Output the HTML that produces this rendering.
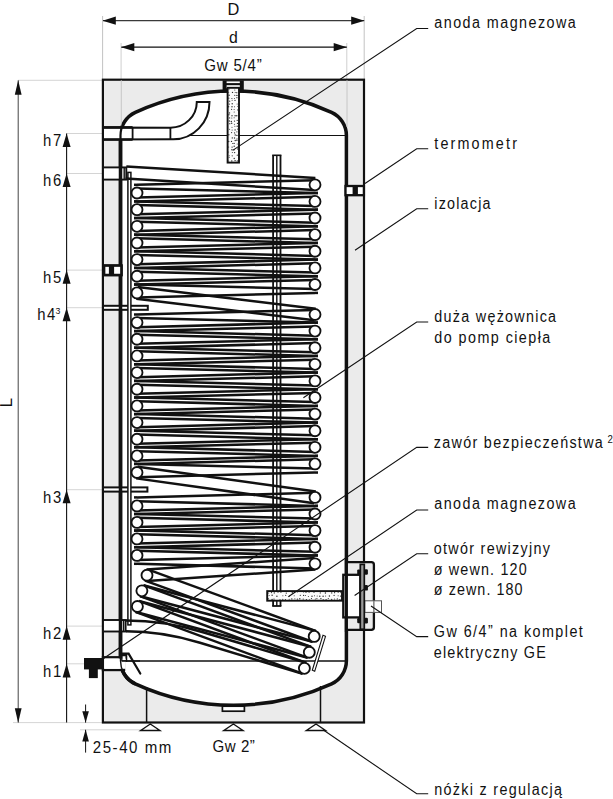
<!DOCTYPE html>
<html><head><meta charset="utf-8"><title>Zbiornik</title>
<style>
html,body{margin:0;padding:0;background:#fff;}
body{width:613px;height:799px;overflow:hidden;}
svg{display:block;}
text{font-family:"Liberation Sans",sans-serif;fill:#111;}
</style></head><body>
<svg width="613" height="799" viewBox="0 0 613 799">
<rect x="0" y="0" width="613" height="799" fill="#fff"/>
<line x1="102.60" y1="16.00" x2="102.60" y2="80.00" stroke="#bbbbbb" stroke-width="0.9" />
<line x1="364.20" y1="16.00" x2="364.20" y2="80.00" stroke="#bbbbbb" stroke-width="0.9" />
<line x1="121.10" y1="43.00" x2="121.10" y2="128.00" stroke="#c9c9c9" stroke-width="0.9" />
<line x1="346.80" y1="43.00" x2="346.80" y2="128.00" stroke="#c9c9c9" stroke-width="0.9" />
<line x1="18.00" y1="80.30" x2="103.00" y2="80.30" stroke="#c9c9c9" stroke-width="0.8" />
<line x1="66.60" y1="133.50" x2="103.00" y2="133.50" stroke="#c9c9c9" stroke-width="0.8" />
<line x1="66.60" y1="173.50" x2="103.00" y2="173.50" stroke="#c9c9c9" stroke-width="0.8" />
<line x1="66.60" y1="270.10" x2="103.00" y2="270.10" stroke="#c9c9c9" stroke-width="0.8" />
<line x1="66.60" y1="307.70" x2="103.00" y2="307.70" stroke="#c9c9c9" stroke-width="0.8" />
<line x1="66.60" y1="489.70" x2="103.00" y2="489.70" stroke="#c9c9c9" stroke-width="0.8" />
<line x1="66.60" y1="626.10" x2="103.00" y2="626.10" stroke="#c9c9c9" stroke-width="0.8" />
<line x1="66.60" y1="663.80" x2="103.00" y2="663.80" stroke="#c9c9c9" stroke-width="0.8" />
<line x1="13.00" y1="722.60" x2="103.00" y2="722.60" stroke="#c9c9c9" stroke-width="0.8" />
<line x1="80.00" y1="729.80" x2="141.00" y2="729.80" stroke="#c9c9c9" stroke-width="0.8" />
<rect x="102.90" y="79.70" width="261.10" height="642.80" fill="#ebebeb" stroke="#111111" stroke-width="2.2" />
<path d="M 120.5 660.8 L 120.5 135.5 A 25.46 25.46 0 0 1 135.38 112.34 A 236 236 0 0 1 331.52 112.34 A 25.46 25.46 0 0 1 346.4 135.5 L 346.4 660.8 A 25.31 25.31 0 0 1 331.62 683.81 A 236 236 0 0 1 135.28 683.81 A 25.31 25.31 0 0 1 120.5 660.8 Z" fill="#fff" stroke="#111111" stroke-width="3.5" />
<line x1="120.50" y1="135.50" x2="346.40" y2="135.50" stroke="#111111" stroke-width="1.2" />
<line x1="120.50" y1="661.00" x2="346.40" y2="661.00" stroke="#111111" stroke-width="1.3" />
<line x1="121.30" y1="80.00" x2="121.30" y2="127.00" stroke="#bdbdbd" stroke-width="0.8" />
<line x1="347.00" y1="80.00" x2="347.00" y2="127.00" stroke="#bdbdbd" stroke-width="0.8" />
<line x1="146.60" y1="687.00" x2="146.60" y2="722.50" stroke="#111111" stroke-width="1.5" />
<line x1="320.50" y1="686.00" x2="320.50" y2="722.50" stroke="#111111" stroke-width="1.5" />
<path d="M 150.3 724.0 L 140.70000000000002 730.5 L 159.9 730.5 Z" fill="#fff" stroke="#111111" stroke-width="1.4" stroke-linejoin="miter"/>
<path d="M 233.4 724.0 L 223.8 730.5 L 243.0 730.5 Z" fill="#fff" stroke="#111111" stroke-width="1.4" stroke-linejoin="miter"/>
<path d="M 316.0 724.0 L 306.4 730.5 L 325.6 730.5 Z" fill="#fff" stroke="#111111" stroke-width="1.4" stroke-linejoin="miter"/>
<rect x="222.40" y="706.20" width="22.00" height="5.00" fill="#fff" stroke="#111111" stroke-width="1.7" />
<path d="M 103 127.4 L 170.4 127.7 A 26.4 25.8 0 0 0 196.8 101.9 L 209.5 101.9 A 36.2 37.4 0 0 1 173.3 139.3 L 103 139.5 Z" fill="#fff" stroke="#111111" stroke-width="2.0" />
<line x1="170.40" y1="127.60" x2="170.40" y2="139.40" stroke="#111111" stroke-width="1.8" />
<line x1="132.60" y1="127.40" x2="132.60" y2="139.50" stroke="#111111" stroke-width="1.8" />
<line x1="103.00" y1="127.30" x2="132.60" y2="127.30" stroke="#111111" stroke-width="2.4" />
<line x1="103.00" y1="139.60" x2="132.60" y2="139.60" stroke="#111111" stroke-width="2.4" />
<path d="M 120.5 142 L 120.5 135.5 A 25.46 25.46 0 0 1 124.10 122.50" fill="none" stroke="#111111" stroke-width="2.2" />
<rect x="103.00" y="167.40" width="23.30" height="12.20" fill="#fff" stroke="#111111" stroke-width="1.9" />
<line x1="120.50" y1="165.00" x2="120.50" y2="182.00" stroke="#111111" stroke-width="3.0" />
<line x1="124.20" y1="167.40" x2="124.20" y2="179.60" stroke="#111111" stroke-width="1.4" />
<rect x="104.10" y="265.60" width="17.30" height="9.40" fill="#fff" stroke="#111111" stroke-width="2.5" />
<rect x="108.90" y="265.60" width="5.20" height="9.40" fill="#111111" stroke="#111111" stroke-width="0" />
<rect x="103.00" y="305.80" width="44.80" height="4.00" fill="#fff" stroke="#111111" stroke-width="2.0" />
<rect x="103.00" y="487.40" width="44.40" height="4.20" fill="#fff" stroke="#111111" stroke-width="2.0" />
<rect x="103.00" y="620.00" width="22.60" height="11.50" fill="#fff" stroke="#111111" stroke-width="1.9" />
<line x1="123.60" y1="620.00" x2="123.60" y2="631.50" stroke="#111111" stroke-width="1.3" />
<rect x="103.00" y="657.30" width="21.00" height="12.70" fill="#fff" stroke="#111111" stroke-width="2.4" />
<rect x="121.50" y="655.60" width="4.60" height="5.60" fill="#fff" stroke="#111111" stroke-width="1.3" />
<path d="M 120.5 141 L 120.5 660.8 A 25.31 25.31 0 0 0 135.28 683.81" fill="none" stroke="#111111" stroke-width="3.5" />
<rect x="104.10" y="265.60" width="17.30" height="9.40" fill="#fff" stroke="#111111" stroke-width="2.5" />
<rect x="108.90" y="265.60" width="5.20" height="9.40" fill="#111111" stroke="#111111" stroke-width="0" />
<rect x="104.20" y="658.60" width="21.50" height="10.20" fill="#fff" stroke="#111111" stroke-width="0" />
<path d="M 120.5 656 L 120.5 660.8 A 25.31 25.31 0 0 0 123.70 673.10" fill="none" stroke="#111111" stroke-width="1.4" />
<rect x="121.80" y="654.60" width="4.80" height="6.20" fill="none" stroke="#111111" stroke-width="1.3" />
<line x1="122.00" y1="661.00" x2="140.00" y2="661.00" stroke="#111111" stroke-width="1.3" />
<rect x="84.00" y="658.00" width="20.00" height="11.40" fill="#111111" stroke="#111111" stroke-width="0" />
<rect x="88.90" y="669.00" width="8.90" height="9.10" fill="#111111" stroke="#111111" stroke-width="0" />
<path d="M 122 653.7 L 128.6 653.7 L 140.3 673.5" fill="none" stroke="#111111" stroke-width="2.2" stroke-linecap="round" stroke-linejoin="miter"/>
<rect x="127.90" y="172.40" width="3.00" height="452.50" fill="#fff" stroke="#111111" stroke-width="1.5" />
<rect x="222.60" y="80.40" width="21.20" height="12.00" fill="#111111" stroke="#111111" stroke-width="0" />
<rect x="226.60" y="81.40" width="13.20" height="1.70" fill="#fff" stroke="#111111" stroke-width="0" />
<rect x="226.60" y="85.20" width="13.20" height="3.00" fill="#fff" stroke="#111111" stroke-width="0" />
<rect x="227.60" y="87.80" width="11.40" height="74.80" fill="#fbfbfb" stroke="#111111" stroke-width="1.9" />
<circle cx="229.0" cy="88.9" r="0.7" fill="#2a2a2a"/>
<circle cx="234.8" cy="89.9" r="0.5" fill="#2a2a2a"/>
<circle cx="228.7" cy="92.2" r="0.5" fill="#2a2a2a"/>
<circle cx="232.5" cy="92.4" r="0.7" fill="#2a2a2a"/>
<circle cx="235.2" cy="92.4" r="0.5" fill="#2a2a2a"/>
<circle cx="236.8" cy="92.7" r="0.6" fill="#2a2a2a"/>
<circle cx="229.1" cy="95.2" r="0.7" fill="#2a2a2a"/>
<circle cx="234.8" cy="95.3" r="0.6" fill="#2a2a2a"/>
<circle cx="236.9" cy="95.4" r="0.7" fill="#2a2a2a"/>
<circle cx="228.8" cy="98.2" r="0.6" fill="#2a2a2a"/>
<circle cx="231.9" cy="98.5" r="0.6" fill="#2a2a2a"/>
<circle cx="234.4" cy="98.4" r="0.5" fill="#2a2a2a"/>
<circle cx="236.9" cy="97.7" r="0.6" fill="#2a2a2a"/>
<circle cx="229.7" cy="101.2" r="0.6" fill="#2a2a2a"/>
<circle cx="232.1" cy="100.3" r="0.5" fill="#2a2a2a"/>
<circle cx="235.0" cy="100.4" r="0.6" fill="#2a2a2a"/>
<circle cx="229.3" cy="104.1" r="0.6" fill="#2a2a2a"/>
<circle cx="232.2" cy="103.8" r="0.7" fill="#2a2a2a"/>
<circle cx="237.1" cy="104.0" r="0.5" fill="#2a2a2a"/>
<circle cx="228.6" cy="106.8" r="0.7" fill="#2a2a2a"/>
<circle cx="232.0" cy="106.8" r="0.7" fill="#2a2a2a"/>
<circle cx="234.5" cy="106.8" r="0.5" fill="#2a2a2a"/>
<circle cx="238.0" cy="106.4" r="0.6" fill="#2a2a2a"/>
<circle cx="231.6" cy="109.3" r="0.6" fill="#2a2a2a"/>
<circle cx="234.1" cy="109.4" r="0.5" fill="#2a2a2a"/>
<circle cx="237.8" cy="109.9" r="0.6" fill="#2a2a2a"/>
<circle cx="229.5" cy="112.9" r="0.7" fill="#2a2a2a"/>
<circle cx="234.2" cy="112.0" r="0.5" fill="#2a2a2a"/>
<circle cx="228.9" cy="114.7" r="0.7" fill="#2a2a2a"/>
<circle cx="232.0" cy="115.8" r="0.7" fill="#2a2a2a"/>
<circle cx="235.1" cy="115.8" r="0.7" fill="#2a2a2a"/>
<circle cx="236.8" cy="115.7" r="0.7" fill="#2a2a2a"/>
<circle cx="229.6" cy="117.9" r="0.6" fill="#2a2a2a"/>
<circle cx="231.8" cy="118.0" r="0.5" fill="#2a2a2a"/>
<circle cx="234.1" cy="117.7" r="0.5" fill="#2a2a2a"/>
<circle cx="229.3" cy="121.0" r="0.7" fill="#2a2a2a"/>
<circle cx="231.3" cy="121.4" r="0.7" fill="#2a2a2a"/>
<circle cx="234.5" cy="121.1" r="0.7" fill="#2a2a2a"/>
<circle cx="237.2" cy="120.4" r="0.6" fill="#2a2a2a"/>
<circle cx="229.8" cy="123.7" r="0.6" fill="#2a2a2a"/>
<circle cx="231.7" cy="123.3" r="0.7" fill="#2a2a2a"/>
<circle cx="234.4" cy="124.2" r="0.5" fill="#2a2a2a"/>
<circle cx="237.4" cy="123.4" r="0.6" fill="#2a2a2a"/>
<circle cx="232.0" cy="127.3" r="0.5" fill="#2a2a2a"/>
<circle cx="234.9" cy="126.3" r="0.5" fill="#2a2a2a"/>
<circle cx="237.2" cy="126.3" r="0.7" fill="#2a2a2a"/>
<circle cx="229.6" cy="129.3" r="0.5" fill="#2a2a2a"/>
<circle cx="232.1" cy="129.9" r="0.5" fill="#2a2a2a"/>
<circle cx="235.1" cy="129.9" r="0.7" fill="#2a2a2a"/>
<circle cx="237.8" cy="129.1" r="0.7" fill="#2a2a2a"/>
<circle cx="231.6" cy="132.6" r="0.6" fill="#2a2a2a"/>
<circle cx="234.6" cy="132.9" r="0.6" fill="#2a2a2a"/>
<circle cx="236.9" cy="131.8" r="0.6" fill="#2a2a2a"/>
<circle cx="228.8" cy="134.8" r="0.7" fill="#2a2a2a"/>
<circle cx="235.2" cy="135.0" r="0.7" fill="#2a2a2a"/>
<circle cx="236.9" cy="135.4" r="0.7" fill="#2a2a2a"/>
<circle cx="232.3" cy="137.9" r="0.7" fill="#2a2a2a"/>
<circle cx="234.5" cy="138.0" r="0.7" fill="#2a2a2a"/>
<circle cx="237.0" cy="138.7" r="0.5" fill="#2a2a2a"/>
<circle cx="228.7" cy="141.5" r="0.7" fill="#2a2a2a"/>
<circle cx="231.5" cy="141.4" r="0.7" fill="#2a2a2a"/>
<circle cx="235.2" cy="140.5" r="0.7" fill="#2a2a2a"/>
<circle cx="236.9" cy="140.3" r="0.7" fill="#2a2a2a"/>
<circle cx="232.6" cy="143.4" r="0.5" fill="#2a2a2a"/>
<circle cx="234.1" cy="143.4" r="0.7" fill="#2a2a2a"/>
<circle cx="237.2" cy="143.9" r="0.5" fill="#2a2a2a"/>
<circle cx="228.6" cy="147.0" r="0.6" fill="#2a2a2a"/>
<circle cx="232.1" cy="147.1" r="0.7" fill="#2a2a2a"/>
<circle cx="234.2" cy="146.2" r="0.7" fill="#2a2a2a"/>
<circle cx="231.9" cy="149.8" r="0.7" fill="#2a2a2a"/>
<circle cx="234.1" cy="149.8" r="0.6" fill="#2a2a2a"/>
<circle cx="237.8" cy="149.0" r="0.7" fill="#2a2a2a"/>
<circle cx="228.6" cy="152.0" r="0.5" fill="#2a2a2a"/>
<circle cx="232.3" cy="152.4" r="0.5" fill="#2a2a2a"/>
<circle cx="234.6" cy="152.6" r="0.7" fill="#2a2a2a"/>
<circle cx="229.2" cy="155.7" r="0.5" fill="#2a2a2a"/>
<circle cx="232.2" cy="155.8" r="0.6" fill="#2a2a2a"/>
<circle cx="237.3" cy="155.2" r="0.6" fill="#2a2a2a"/>
<circle cx="229.1" cy="157.6" r="0.5" fill="#2a2a2a"/>
<circle cx="234.2" cy="158.5" r="0.7" fill="#2a2a2a"/>
<circle cx="228.7" cy="161.0" r="0.5" fill="#2a2a2a"/>
<circle cx="231.8" cy="161.0" r="0.7" fill="#2a2a2a"/>
<circle cx="235.1" cy="160.6" r="0.7" fill="#2a2a2a"/>
<circle cx="237.3" cy="160.9" r="0.6" fill="#2a2a2a"/>
<g stroke-linecap="butt">
<line x1="315.00" y1="180.20" x2="137.00" y2="184.80" stroke="#111111" stroke-width="2.5" />
<line x1="137.00" y1="184.80" x2="134.00" y2="184.80" stroke="#111111" stroke-width="2.5" />
<line x1="137.00" y1="197.60" x2="315.00" y2="193.00" stroke="#111111" stroke-width="2.5" />
<line x1="315.00" y1="193.00" x2="318.00" y2="193.00" stroke="#111111" stroke-width="2.5" />
<line x1="137.00" y1="188.40" x2="315.00" y2="193.00" stroke="#111111" stroke-width="2.5" />
<line x1="315.00" y1="193.00" x2="318.00" y2="193.00" stroke="#111111" stroke-width="2.5" />
<line x1="315.00" y1="206.02" x2="137.00" y2="201.42" stroke="#111111" stroke-width="2.5" />
<line x1="137.00" y1="201.42" x2="134.00" y2="201.42" stroke="#111111" stroke-width="2.5" />
<line x1="315.00" y1="196.82" x2="137.00" y2="201.42" stroke="#111111" stroke-width="2.5" />
<line x1="137.00" y1="201.42" x2="134.00" y2="201.42" stroke="#111111" stroke-width="2.5" />
<line x1="137.00" y1="214.25" x2="315.00" y2="209.65" stroke="#111111" stroke-width="2.5" />
<line x1="315.00" y1="209.65" x2="318.00" y2="209.65" stroke="#111111" stroke-width="2.5" />
<line x1="137.00" y1="205.05" x2="315.00" y2="209.65" stroke="#111111" stroke-width="2.5" />
<line x1="315.00" y1="209.65" x2="318.00" y2="209.65" stroke="#111111" stroke-width="2.5" />
<line x1="315.00" y1="222.64" x2="137.00" y2="218.04" stroke="#111111" stroke-width="2.5" />
<line x1="137.00" y1="218.04" x2="134.00" y2="218.04" stroke="#111111" stroke-width="2.5" />
<line x1="315.00" y1="213.44" x2="137.00" y2="218.04" stroke="#111111" stroke-width="2.5" />
<line x1="137.00" y1="218.04" x2="134.00" y2="218.04" stroke="#111111" stroke-width="2.5" />
<line x1="137.00" y1="230.90" x2="315.00" y2="226.30" stroke="#111111" stroke-width="2.5" />
<line x1="315.00" y1="226.30" x2="318.00" y2="226.30" stroke="#111111" stroke-width="2.5" />
<line x1="137.00" y1="221.70" x2="315.00" y2="226.30" stroke="#111111" stroke-width="2.5" />
<line x1="315.00" y1="226.30" x2="318.00" y2="226.30" stroke="#111111" stroke-width="2.5" />
<line x1="315.00" y1="239.26" x2="137.00" y2="234.66" stroke="#111111" stroke-width="2.5" />
<line x1="137.00" y1="234.66" x2="134.00" y2="234.66" stroke="#111111" stroke-width="2.5" />
<line x1="315.00" y1="230.06" x2="137.00" y2="234.66" stroke="#111111" stroke-width="2.5" />
<line x1="137.00" y1="234.66" x2="134.00" y2="234.66" stroke="#111111" stroke-width="2.5" />
<line x1="137.00" y1="247.55" x2="315.00" y2="242.95" stroke="#111111" stroke-width="2.5" />
<line x1="315.00" y1="242.95" x2="318.00" y2="242.95" stroke="#111111" stroke-width="2.5" />
<line x1="137.00" y1="238.35" x2="315.00" y2="242.95" stroke="#111111" stroke-width="2.5" />
<line x1="315.00" y1="242.95" x2="318.00" y2="242.95" stroke="#111111" stroke-width="2.5" />
<line x1="315.00" y1="255.88" x2="137.00" y2="251.28" stroke="#111111" stroke-width="2.5" />
<line x1="137.00" y1="251.28" x2="134.00" y2="251.28" stroke="#111111" stroke-width="2.5" />
<line x1="315.00" y1="246.68" x2="137.00" y2="251.28" stroke="#111111" stroke-width="2.5" />
<line x1="137.00" y1="251.28" x2="134.00" y2="251.28" stroke="#111111" stroke-width="2.5" />
<line x1="137.00" y1="264.20" x2="315.00" y2="259.60" stroke="#111111" stroke-width="2.5" />
<line x1="315.00" y1="259.60" x2="318.00" y2="259.60" stroke="#111111" stroke-width="2.5" />
<line x1="137.00" y1="255.00" x2="315.00" y2="259.60" stroke="#111111" stroke-width="2.5" />
<line x1="315.00" y1="259.60" x2="318.00" y2="259.60" stroke="#111111" stroke-width="2.5" />
<line x1="315.00" y1="272.50" x2="137.00" y2="267.90" stroke="#111111" stroke-width="2.5" />
<line x1="137.00" y1="267.90" x2="134.00" y2="267.90" stroke="#111111" stroke-width="2.5" />
<line x1="315.00" y1="263.30" x2="137.00" y2="267.90" stroke="#111111" stroke-width="2.5" />
<line x1="137.00" y1="267.90" x2="134.00" y2="267.90" stroke="#111111" stroke-width="2.5" />
<line x1="137.00" y1="280.85" x2="315.00" y2="276.25" stroke="#111111" stroke-width="2.5" />
<line x1="315.00" y1="276.25" x2="318.00" y2="276.25" stroke="#111111" stroke-width="2.5" />
<line x1="137.00" y1="271.65" x2="315.00" y2="276.25" stroke="#111111" stroke-width="2.5" />
<line x1="315.00" y1="276.25" x2="318.00" y2="276.25" stroke="#111111" stroke-width="2.5" />
<line x1="315.00" y1="289.12" x2="137.00" y2="284.52" stroke="#111111" stroke-width="2.5" />
<line x1="137.00" y1="284.52" x2="134.00" y2="284.52" stroke="#111111" stroke-width="2.5" />
<line x1="315.00" y1="279.92" x2="137.00" y2="284.52" stroke="#111111" stroke-width="2.5" />
<line x1="137.00" y1="284.52" x2="134.00" y2="284.52" stroke="#111111" stroke-width="2.5" />
<line x1="137.00" y1="297.50" x2="315.00" y2="292.90" stroke="#111111" stroke-width="2.5" />
<line x1="315.00" y1="292.90" x2="318.00" y2="292.90" stroke="#111111" stroke-width="2.5" />
<line x1="315.00" y1="309.90" x2="137.00" y2="314.50" stroke="#111111" stroke-width="2.5" />
<line x1="137.00" y1="314.50" x2="134.00" y2="314.50" stroke="#111111" stroke-width="2.5" />
<line x1="137.00" y1="327.20" x2="315.00" y2="322.60" stroke="#111111" stroke-width="2.5" />
<line x1="315.00" y1="322.60" x2="318.00" y2="322.60" stroke="#111111" stroke-width="2.5" />
<line x1="137.00" y1="318.00" x2="315.00" y2="322.60" stroke="#111111" stroke-width="2.5" />
<line x1="315.00" y1="322.60" x2="318.00" y2="322.60" stroke="#111111" stroke-width="2.5" />
<line x1="315.00" y1="335.70" x2="137.00" y2="331.10" stroke="#111111" stroke-width="2.5" />
<line x1="137.00" y1="331.10" x2="134.00" y2="331.10" stroke="#111111" stroke-width="2.5" />
<line x1="315.00" y1="326.50" x2="137.00" y2="331.10" stroke="#111111" stroke-width="2.5" />
<line x1="137.00" y1="331.10" x2="134.00" y2="331.10" stroke="#111111" stroke-width="2.5" />
<line x1="137.00" y1="343.86" x2="315.00" y2="339.26" stroke="#111111" stroke-width="2.5" />
<line x1="315.00" y1="339.26" x2="318.00" y2="339.26" stroke="#111111" stroke-width="2.5" />
<line x1="137.00" y1="334.66" x2="315.00" y2="339.26" stroke="#111111" stroke-width="2.5" />
<line x1="315.00" y1="339.26" x2="318.00" y2="339.26" stroke="#111111" stroke-width="2.5" />
<line x1="315.00" y1="352.30" x2="137.00" y2="347.70" stroke="#111111" stroke-width="2.5" />
<line x1="137.00" y1="347.70" x2="134.00" y2="347.70" stroke="#111111" stroke-width="2.5" />
<line x1="315.00" y1="343.10" x2="137.00" y2="347.70" stroke="#111111" stroke-width="2.5" />
<line x1="137.00" y1="347.70" x2="134.00" y2="347.70" stroke="#111111" stroke-width="2.5" />
<line x1="137.00" y1="360.52" x2="315.00" y2="355.92" stroke="#111111" stroke-width="2.5" />
<line x1="315.00" y1="355.92" x2="318.00" y2="355.92" stroke="#111111" stroke-width="2.5" />
<line x1="137.00" y1="351.32" x2="315.00" y2="355.92" stroke="#111111" stroke-width="2.5" />
<line x1="315.00" y1="355.92" x2="318.00" y2="355.92" stroke="#111111" stroke-width="2.5" />
<line x1="315.00" y1="368.90" x2="137.00" y2="364.30" stroke="#111111" stroke-width="2.5" />
<line x1="137.00" y1="364.30" x2="134.00" y2="364.30" stroke="#111111" stroke-width="2.5" />
<line x1="315.00" y1="359.70" x2="137.00" y2="364.30" stroke="#111111" stroke-width="2.5" />
<line x1="137.00" y1="364.30" x2="134.00" y2="364.30" stroke="#111111" stroke-width="2.5" />
<line x1="137.00" y1="377.18" x2="315.00" y2="372.58" stroke="#111111" stroke-width="2.5" />
<line x1="315.00" y1="372.58" x2="318.00" y2="372.58" stroke="#111111" stroke-width="2.5" />
<line x1="137.00" y1="367.98" x2="315.00" y2="372.58" stroke="#111111" stroke-width="2.5" />
<line x1="315.00" y1="372.58" x2="318.00" y2="372.58" stroke="#111111" stroke-width="2.5" />
<line x1="315.00" y1="385.50" x2="137.00" y2="380.90" stroke="#111111" stroke-width="2.5" />
<line x1="137.00" y1="380.90" x2="134.00" y2="380.90" stroke="#111111" stroke-width="2.5" />
<line x1="315.00" y1="376.30" x2="137.00" y2="380.90" stroke="#111111" stroke-width="2.5" />
<line x1="137.00" y1="380.90" x2="134.00" y2="380.90" stroke="#111111" stroke-width="2.5" />
<line x1="137.00" y1="393.84" x2="315.00" y2="389.24" stroke="#111111" stroke-width="2.5" />
<line x1="315.00" y1="389.24" x2="318.00" y2="389.24" stroke="#111111" stroke-width="2.5" />
<line x1="137.00" y1="384.64" x2="315.00" y2="389.24" stroke="#111111" stroke-width="2.5" />
<line x1="315.00" y1="389.24" x2="318.00" y2="389.24" stroke="#111111" stroke-width="2.5" />
<line x1="315.00" y1="402.10" x2="137.00" y2="397.50" stroke="#111111" stroke-width="2.5" />
<line x1="137.00" y1="397.50" x2="134.00" y2="397.50" stroke="#111111" stroke-width="2.5" />
<line x1="315.00" y1="392.90" x2="137.00" y2="397.50" stroke="#111111" stroke-width="2.5" />
<line x1="137.00" y1="397.50" x2="134.00" y2="397.50" stroke="#111111" stroke-width="2.5" />
<line x1="137.00" y1="410.50" x2="315.00" y2="405.90" stroke="#111111" stroke-width="2.5" />
<line x1="315.00" y1="405.90" x2="318.00" y2="405.90" stroke="#111111" stroke-width="2.5" />
<line x1="137.00" y1="401.30" x2="315.00" y2="405.90" stroke="#111111" stroke-width="2.5" />
<line x1="315.00" y1="405.90" x2="318.00" y2="405.90" stroke="#111111" stroke-width="2.5" />
<line x1="315.00" y1="418.70" x2="137.00" y2="414.10" stroke="#111111" stroke-width="2.5" />
<line x1="137.00" y1="414.10" x2="134.00" y2="414.10" stroke="#111111" stroke-width="2.5" />
<line x1="315.00" y1="409.50" x2="137.00" y2="414.10" stroke="#111111" stroke-width="2.5" />
<line x1="137.00" y1="414.10" x2="134.00" y2="414.10" stroke="#111111" stroke-width="2.5" />
<line x1="137.00" y1="427.16" x2="315.00" y2="422.56" stroke="#111111" stroke-width="2.5" />
<line x1="315.00" y1="422.56" x2="318.00" y2="422.56" stroke="#111111" stroke-width="2.5" />
<line x1="137.00" y1="417.96" x2="315.00" y2="422.56" stroke="#111111" stroke-width="2.5" />
<line x1="315.00" y1="422.56" x2="318.00" y2="422.56" stroke="#111111" stroke-width="2.5" />
<line x1="315.00" y1="435.30" x2="137.00" y2="430.70" stroke="#111111" stroke-width="2.5" />
<line x1="137.00" y1="430.70" x2="134.00" y2="430.70" stroke="#111111" stroke-width="2.5" />
<line x1="315.00" y1="426.10" x2="137.00" y2="430.70" stroke="#111111" stroke-width="2.5" />
<line x1="137.00" y1="430.70" x2="134.00" y2="430.70" stroke="#111111" stroke-width="2.5" />
<line x1="137.00" y1="443.82" x2="315.00" y2="439.22" stroke="#111111" stroke-width="2.5" />
<line x1="315.00" y1="439.22" x2="318.00" y2="439.22" stroke="#111111" stroke-width="2.5" />
<line x1="137.00" y1="434.62" x2="315.00" y2="439.22" stroke="#111111" stroke-width="2.5" />
<line x1="315.00" y1="439.22" x2="318.00" y2="439.22" stroke="#111111" stroke-width="2.5" />
<line x1="315.00" y1="451.90" x2="137.00" y2="447.30" stroke="#111111" stroke-width="2.5" />
<line x1="137.00" y1="447.30" x2="134.00" y2="447.30" stroke="#111111" stroke-width="2.5" />
<line x1="315.00" y1="442.70" x2="137.00" y2="447.30" stroke="#111111" stroke-width="2.5" />
<line x1="137.00" y1="447.30" x2="134.00" y2="447.30" stroke="#111111" stroke-width="2.5" />
<line x1="137.00" y1="460.48" x2="315.00" y2="455.88" stroke="#111111" stroke-width="2.5" />
<line x1="315.00" y1="455.88" x2="318.00" y2="455.88" stroke="#111111" stroke-width="2.5" />
<line x1="137.00" y1="451.28" x2="315.00" y2="455.88" stroke="#111111" stroke-width="2.5" />
<line x1="315.00" y1="455.88" x2="318.00" y2="455.88" stroke="#111111" stroke-width="2.5" />
<line x1="315.00" y1="468.50" x2="137.00" y2="463.90" stroke="#111111" stroke-width="2.5" />
<line x1="137.00" y1="463.90" x2="134.00" y2="463.90" stroke="#111111" stroke-width="2.5" />
<line x1="315.00" y1="459.30" x2="137.00" y2="463.90" stroke="#111111" stroke-width="2.5" />
<line x1="137.00" y1="463.90" x2="134.00" y2="463.90" stroke="#111111" stroke-width="2.5" />
<line x1="137.00" y1="477.14" x2="315.00" y2="472.54" stroke="#111111" stroke-width="2.5" />
<line x1="315.00" y1="472.54" x2="318.00" y2="472.54" stroke="#111111" stroke-width="2.5" />
<line x1="315.00" y1="492.80" x2="137.00" y2="497.40" stroke="#111111" stroke-width="2.5" />
<line x1="137.00" y1="497.40" x2="134.00" y2="497.40" stroke="#111111" stroke-width="2.5" />
<line x1="137.00" y1="510.50" x2="315.00" y2="505.90" stroke="#111111" stroke-width="2.5" />
<line x1="315.00" y1="505.90" x2="318.00" y2="505.90" stroke="#111111" stroke-width="2.5" />
<line x1="137.00" y1="501.30" x2="315.00" y2="505.90" stroke="#111111" stroke-width="2.5" />
<line x1="315.00" y1="505.90" x2="318.00" y2="505.90" stroke="#111111" stroke-width="2.5" />
<line x1="315.00" y1="518.60" x2="137.00" y2="514.00" stroke="#111111" stroke-width="2.5" />
<line x1="137.00" y1="514.00" x2="134.00" y2="514.00" stroke="#111111" stroke-width="2.5" />
<line x1="315.00" y1="509.40" x2="137.00" y2="514.00" stroke="#111111" stroke-width="2.5" />
<line x1="137.00" y1="514.00" x2="134.00" y2="514.00" stroke="#111111" stroke-width="2.5" />
<line x1="137.00" y1="527.00" x2="315.00" y2="522.40" stroke="#111111" stroke-width="2.5" />
<line x1="315.00" y1="522.40" x2="318.00" y2="522.40" stroke="#111111" stroke-width="2.5" />
<line x1="137.00" y1="517.80" x2="315.00" y2="522.40" stroke="#111111" stroke-width="2.5" />
<line x1="315.00" y1="522.40" x2="318.00" y2="522.40" stroke="#111111" stroke-width="2.5" />
<line x1="315.00" y1="535.20" x2="137.00" y2="530.60" stroke="#111111" stroke-width="2.5" />
<line x1="137.00" y1="530.60" x2="134.00" y2="530.60" stroke="#111111" stroke-width="2.5" />
<line x1="315.00" y1="526.00" x2="137.00" y2="530.60" stroke="#111111" stroke-width="2.5" />
<line x1="137.00" y1="530.60" x2="134.00" y2="530.60" stroke="#111111" stroke-width="2.5" />
<line x1="137.00" y1="543.50" x2="315.00" y2="538.90" stroke="#111111" stroke-width="2.5" />
<line x1="315.00" y1="538.90" x2="318.00" y2="538.90" stroke="#111111" stroke-width="2.5" />
<line x1="137.00" y1="534.30" x2="315.00" y2="538.90" stroke="#111111" stroke-width="2.5" />
<line x1="315.00" y1="538.90" x2="318.00" y2="538.90" stroke="#111111" stroke-width="2.5" />
<line x1="315.00" y1="551.80" x2="137.00" y2="547.20" stroke="#111111" stroke-width="2.5" />
<line x1="137.00" y1="547.20" x2="134.00" y2="547.20" stroke="#111111" stroke-width="2.5" />
<line x1="315.00" y1="542.60" x2="137.00" y2="547.20" stroke="#111111" stroke-width="2.5" />
<line x1="137.00" y1="547.20" x2="134.00" y2="547.20" stroke="#111111" stroke-width="2.5" />
<line x1="137.00" y1="560.00" x2="315.00" y2="555.40" stroke="#111111" stroke-width="2.5" />
<line x1="315.00" y1="555.40" x2="318.00" y2="555.40" stroke="#111111" stroke-width="2.5" />
<line x1="137.00" y1="550.80" x2="315.00" y2="555.40" stroke="#111111" stroke-width="2.5" />
<line x1="315.00" y1="555.40" x2="318.00" y2="555.40" stroke="#111111" stroke-width="2.5" />
<line x1="315.00" y1="568.40" x2="137.00" y2="563.80" stroke="#111111" stroke-width="2.5" />
<line x1="137.00" y1="563.80" x2="134.00" y2="563.80" stroke="#111111" stroke-width="2.5" />
<line x1="125.64" y1="178.59" x2="314.63" y2="190.09" stroke="#111111" stroke-width="2.5" />
<line x1="126.36" y1="166.61" x2="315.37" y2="177.91" stroke="#111111" stroke-width="2.5" />
<line x1="136.29" y1="298.76" x2="314.29" y2="320.36" stroke="#111111" stroke-width="2.5" />
<line x1="137.71" y1="287.04" x2="315.71" y2="308.64" stroke="#111111" stroke-width="2.5" />
<line x1="136.18" y1="478.38" x2="314.18" y2="503.24" stroke="#111111" stroke-width="2.5" />
<line x1="137.82" y1="466.70" x2="315.82" y2="491.56" stroke="#111111" stroke-width="2.5" />
<line x1="314.61" y1="558.11" x2="146.61" y2="569.51" stroke="#111111" stroke-width="2.5" />
<line x1="315.39" y1="569.49" x2="147.39" y2="580.89" stroke="#111111" stroke-width="2.5" />
<line x1="145.04" y1="580.55" x2="312.24" y2="641.75" stroke="#111111" stroke-width="2.5" />
<line x1="148.96" y1="569.85" x2="316.16" y2="631.05" stroke="#111111" stroke-width="2.5" />
<line x1="315.66" y1="630.89" x2="143.36" y2="585.29" stroke="#111111" stroke-width="2.5" />
<line x1="312.74" y1="641.91" x2="140.44" y2="596.31" stroke="#111111" stroke-width="2.5" />
<line x1="139.94" y1="596.15" x2="307.34" y2="657.55" stroke="#111111" stroke-width="2.5" />
<line x1="143.86" y1="585.45" x2="311.26" y2="646.85" stroke="#111111" stroke-width="2.5" />
<line x1="310.76" y1="646.69" x2="138.86" y2="600.99" stroke="#111111" stroke-width="2.5" />
<line x1="307.84" y1="657.71" x2="135.94" y2="612.01" stroke="#111111" stroke-width="2.5" />
<line x1="135.42" y1="611.85" x2="302.42" y2="673.65" stroke="#111111" stroke-width="2.5" />
<line x1="139.38" y1="601.15" x2="306.38" y2="662.95" stroke="#111111" stroke-width="2.5" />
<path d="M 126 620.6 C 152 620.6 178 624.6 203 632.2 L 306.1 662.7" fill="none" stroke="#111111" stroke-width="2.5" />
<path d="M 126 631.3 C 150 631.3 175 635.2 200 642.7 L 302.7 673.9" fill="none" stroke="#111111" stroke-width="2.5" />
</g>
<circle cx="315.00" cy="184.80" r="5.5" fill="#fff" stroke="#111111" stroke-width="1.85"/>
<circle cx="137.00" cy="193.00" r="5.5" fill="#fff" stroke="#111111" stroke-width="1.85"/>
<circle cx="315.00" cy="201.42" r="5.5" fill="#fff" stroke="#111111" stroke-width="1.85"/>
<circle cx="137.00" cy="209.65" r="5.5" fill="#fff" stroke="#111111" stroke-width="1.85"/>
<circle cx="315.00" cy="218.04" r="5.5" fill="#fff" stroke="#111111" stroke-width="1.85"/>
<circle cx="137.00" cy="226.30" r="5.5" fill="#fff" stroke="#111111" stroke-width="1.85"/>
<circle cx="315.00" cy="234.66" r="5.5" fill="#fff" stroke="#111111" stroke-width="1.85"/>
<circle cx="137.00" cy="242.95" r="5.5" fill="#fff" stroke="#111111" stroke-width="1.85"/>
<circle cx="315.00" cy="251.28" r="5.5" fill="#fff" stroke="#111111" stroke-width="1.85"/>
<circle cx="137.00" cy="259.60" r="5.5" fill="#fff" stroke="#111111" stroke-width="1.85"/>
<circle cx="315.00" cy="267.90" r="5.5" fill="#fff" stroke="#111111" stroke-width="1.85"/>
<circle cx="137.00" cy="276.25" r="5.5" fill="#fff" stroke="#111111" stroke-width="1.85"/>
<circle cx="315.00" cy="284.52" r="5.5" fill="#fff" stroke="#111111" stroke-width="1.85"/>
<circle cx="137.00" cy="292.90" r="5.5" fill="#fff" stroke="#111111" stroke-width="1.85"/>
<circle cx="315.00" cy="314.50" r="5.5" fill="#fff" stroke="#111111" stroke-width="1.85"/>
<circle cx="137.00" cy="322.60" r="5.5" fill="#fff" stroke="#111111" stroke-width="1.85"/>
<circle cx="315.00" cy="331.10" r="5.5" fill="#fff" stroke="#111111" stroke-width="1.85"/>
<circle cx="137.00" cy="339.26" r="5.5" fill="#fff" stroke="#111111" stroke-width="1.85"/>
<circle cx="315.00" cy="347.70" r="5.5" fill="#fff" stroke="#111111" stroke-width="1.85"/>
<circle cx="137.00" cy="355.92" r="5.5" fill="#fff" stroke="#111111" stroke-width="1.85"/>
<circle cx="315.00" cy="364.30" r="5.5" fill="#fff" stroke="#111111" stroke-width="1.85"/>
<circle cx="137.00" cy="372.58" r="5.5" fill="#fff" stroke="#111111" stroke-width="1.85"/>
<circle cx="315.00" cy="380.90" r="5.5" fill="#fff" stroke="#111111" stroke-width="1.85"/>
<circle cx="137.00" cy="389.24" r="5.5" fill="#fff" stroke="#111111" stroke-width="1.85"/>
<circle cx="315.00" cy="397.50" r="5.5" fill="#fff" stroke="#111111" stroke-width="1.85"/>
<circle cx="137.00" cy="405.90" r="5.5" fill="#fff" stroke="#111111" stroke-width="1.85"/>
<circle cx="315.00" cy="414.10" r="5.5" fill="#fff" stroke="#111111" stroke-width="1.85"/>
<circle cx="137.00" cy="422.56" r="5.5" fill="#fff" stroke="#111111" stroke-width="1.85"/>
<circle cx="315.00" cy="430.70" r="5.5" fill="#fff" stroke="#111111" stroke-width="1.85"/>
<circle cx="137.00" cy="439.22" r="5.5" fill="#fff" stroke="#111111" stroke-width="1.85"/>
<circle cx="315.00" cy="447.30" r="5.5" fill="#fff" stroke="#111111" stroke-width="1.85"/>
<circle cx="137.00" cy="455.88" r="5.5" fill="#fff" stroke="#111111" stroke-width="1.85"/>
<circle cx="315.00" cy="463.90" r="5.5" fill="#fff" stroke="#111111" stroke-width="1.85"/>
<circle cx="137.00" cy="472.54" r="5.5" fill="#fff" stroke="#111111" stroke-width="1.85"/>
<circle cx="315.00" cy="497.40" r="5.5" fill="#fff" stroke="#111111" stroke-width="1.85"/>
<circle cx="137.00" cy="505.90" r="5.5" fill="#fff" stroke="#111111" stroke-width="1.85"/>
<circle cx="315.00" cy="514.00" r="5.5" fill="#fff" stroke="#111111" stroke-width="1.85"/>
<circle cx="137.00" cy="522.40" r="5.5" fill="#fff" stroke="#111111" stroke-width="1.85"/>
<circle cx="315.00" cy="530.60" r="5.5" fill="#fff" stroke="#111111" stroke-width="1.85"/>
<circle cx="137.00" cy="538.90" r="5.5" fill="#fff" stroke="#111111" stroke-width="1.85"/>
<circle cx="315.00" cy="547.20" r="5.5" fill="#fff" stroke="#111111" stroke-width="1.85"/>
<circle cx="137.00" cy="555.40" r="5.5" fill="#fff" stroke="#111111" stroke-width="1.85"/>
<circle cx="315.00" cy="563.80" r="5.5" fill="#fff" stroke="#111111" stroke-width="1.85"/>
<circle cx="147.00" cy="575.20" r="5.5" fill="#fff" stroke="#111111" stroke-width="1.85"/>
<circle cx="141.90" cy="590.80" r="5.5" fill="#fff" stroke="#111111" stroke-width="1.85"/>
<circle cx="137.40" cy="606.50" r="5.5" fill="#fff" stroke="#111111" stroke-width="1.85"/>
<circle cx="314.20" cy="636.40" r="5.5" fill="#fff" stroke="#111111" stroke-width="1.85"/>
<circle cx="309.30" cy="652.20" r="5.5" fill="#fff" stroke="#111111" stroke-width="1.85"/>
<circle cx="304.40" cy="668.30" r="5.5" fill="#fff" stroke="#111111" stroke-width="1.85"/>
<path d="M 323.0 635.2 L 325.5 636.3 L 314.7 671.3 L 312.3 670.3 Z" fill="#fff" stroke="#111111" stroke-width="1.1" />
<line x1="273.10" y1="155.30" x2="273.10" y2="606.00" stroke="#111111" stroke-width="1.8" />
<line x1="276.80" y1="155.30" x2="276.80" y2="606.00" stroke="#111111" stroke-width="1.4" />
<line x1="280.50" y1="155.30" x2="280.50" y2="606.00" stroke="#111111" stroke-width="1.8" />
<line x1="272.20" y1="155.30" x2="281.40" y2="155.30" stroke="#111111" stroke-width="1.6" />
<line x1="272.20" y1="606.00" x2="281.40" y2="606.00" stroke="#111111" stroke-width="1.8" />
<rect x="345.50" y="186.00" width="18.40" height="9.20" fill="#fff" stroke="#111111" stroke-width="2.3" />
<rect x="352.60" y="186.00" width="5.30" height="9.20" fill="#111111" stroke="#111111" stroke-width="0" />
<path d="M 346.4 562.2 L 371.3 562.2 Q 373.9 562.2 373.9 564.8 L 373.9 627.3 Q 373.9 629.9 371.3 629.9 L 346.4 629.9 Z" fill="#ebebeb" stroke="#111111" stroke-width="2.3" />
<rect x="343.30" y="574.80" width="17.00" height="42.60" fill="#fff" stroke="#111111" stroke-width="2.3" />
<line x1="346.40" y1="560.00" x2="346.40" y2="632.00" stroke="#111111" stroke-width="3.1" />
<rect x="364.80" y="600.80" width="16.70" height="11.60" fill="#fff" stroke="#555" stroke-width="1.0" />
<line x1="373.90" y1="601.20" x2="373.90" y2="612.00" stroke="#444" stroke-width="1.0" />
<rect x="360.30" y="564.40" width="4.00" height="64.80" fill="#9a9a9a" stroke="#111111" stroke-width="1.7" />
<rect x="357.20" y="569.40" width="3.20" height="5.20" fill="#111111" stroke="#111111" stroke-width="0" rx="1.2"/>
<rect x="364.40" y="569.20" width="3.50" height="5.60" fill="#111111" stroke="#111111" stroke-width="0" rx="1.2"/>
<rect x="357.20" y="618.00" width="3.20" height="5.20" fill="#111111" stroke="#111111" stroke-width="0" rx="1.2"/>
<rect x="364.40" y="617.80" width="3.50" height="5.60" fill="#111111" stroke="#111111" stroke-width="0" rx="1.2"/>
<rect x="364.40" y="585.00" width="3.50" height="5.60" fill="#111111" stroke="#111111" stroke-width="0" rx="1.2"/>
<rect x="267.20" y="591.10" width="74.80" height="9.60" fill="#fbfbfb" stroke="#111111" stroke-width="1.9" />
<circle cx="268.6" cy="593.0" r="0.5" fill="#2a2a2a"/>
<circle cx="271.5" cy="592.6" r="0.6" fill="#2a2a2a"/>
<circle cx="274.3" cy="592.9" r="0.7" fill="#2a2a2a"/>
<circle cx="278.0" cy="592.2" r="0.5" fill="#2a2a2a"/>
<circle cx="280.9" cy="592.2" r="0.6" fill="#2a2a2a"/>
<circle cx="286.3" cy="593.1" r="0.7" fill="#2a2a2a"/>
<circle cx="292.3" cy="592.8" r="0.7" fill="#2a2a2a"/>
<circle cx="294.4" cy="592.4" r="0.5" fill="#2a2a2a"/>
<circle cx="297.3" cy="592.1" r="0.5" fill="#2a2a2a"/>
<circle cx="303.6" cy="592.1" r="0.5" fill="#2a2a2a"/>
<circle cx="306.0" cy="592.5" r="0.6" fill="#2a2a2a"/>
<circle cx="309.1" cy="592.1" r="0.7" fill="#2a2a2a"/>
<circle cx="314.0" cy="592.3" r="0.6" fill="#2a2a2a"/>
<circle cx="320.3" cy="592.9" r="0.6" fill="#2a2a2a"/>
<circle cx="325.4" cy="593.0" r="0.7" fill="#2a2a2a"/>
<circle cx="331.7" cy="592.9" r="0.7" fill="#2a2a2a"/>
<circle cx="334.6" cy="592.7" r="0.6" fill="#2a2a2a"/>
<circle cx="338.1" cy="592.5" r="0.5" fill="#2a2a2a"/>
<circle cx="341.0" cy="592.5" r="0.7" fill="#2a2a2a"/>
<circle cx="269.1" cy="595.4" r="0.5" fill="#2a2a2a"/>
<circle cx="272.1" cy="595.3" r="0.7" fill="#2a2a2a"/>
<circle cx="276.9" cy="596.3" r="0.7" fill="#2a2a2a"/>
<circle cx="282.9" cy="595.8" r="0.5" fill="#2a2a2a"/>
<circle cx="285.7" cy="595.3" r="0.6" fill="#2a2a2a"/>
<circle cx="289.5" cy="596.0" r="0.5" fill="#2a2a2a"/>
<circle cx="294.2" cy="595.7" r="0.5" fill="#2a2a2a"/>
<circle cx="300.3" cy="595.3" r="0.6" fill="#2a2a2a"/>
<circle cx="303.6" cy="595.4" r="0.6" fill="#2a2a2a"/>
<circle cx="305.4" cy="595.6" r="0.5" fill="#2a2a2a"/>
<circle cx="308.4" cy="596.5" r="0.5" fill="#2a2a2a"/>
<circle cx="312.0" cy="596.2" r="0.7" fill="#2a2a2a"/>
<circle cx="314.5" cy="595.7" r="0.5" fill="#2a2a2a"/>
<circle cx="317.2" cy="596.1" r="0.5" fill="#2a2a2a"/>
<circle cx="319.8" cy="596.3" r="0.7" fill="#2a2a2a"/>
<circle cx="323.1" cy="596.2" r="0.7" fill="#2a2a2a"/>
<circle cx="325.6" cy="595.9" r="0.5" fill="#2a2a2a"/>
<circle cx="329.4" cy="596.0" r="0.7" fill="#2a2a2a"/>
<circle cx="334.1" cy="595.4" r="0.6" fill="#2a2a2a"/>
<circle cx="338.1" cy="595.7" r="0.5" fill="#2a2a2a"/>
<circle cx="340.6" cy="596.1" r="0.7" fill="#2a2a2a"/>
<circle cx="268.5" cy="598.8" r="0.6" fill="#2a2a2a"/>
<circle cx="272.1" cy="599.4" r="0.7" fill="#2a2a2a"/>
<circle cx="274.0" cy="599.1" r="0.7" fill="#2a2a2a"/>
<circle cx="280.0" cy="599.4" r="0.5" fill="#2a2a2a"/>
<circle cx="282.8" cy="599.3" r="0.6" fill="#2a2a2a"/>
<circle cx="285.4" cy="599.6" r="0.6" fill="#2a2a2a"/>
<circle cx="289.2" cy="599.3" r="0.5" fill="#2a2a2a"/>
<circle cx="291.8" cy="598.9" r="0.7" fill="#2a2a2a"/>
<circle cx="294.9" cy="598.8" r="0.5" fill="#2a2a2a"/>
<circle cx="297.4" cy="599.1" r="0.7" fill="#2a2a2a"/>
<circle cx="299.8" cy="598.7" r="0.7" fill="#2a2a2a"/>
<circle cx="303.2" cy="599.1" r="0.6" fill="#2a2a2a"/>
<circle cx="306.4" cy="599.7" r="0.6" fill="#2a2a2a"/>
<circle cx="309.5" cy="599.7" r="0.5" fill="#2a2a2a"/>
<circle cx="311.5" cy="598.5" r="0.6" fill="#2a2a2a"/>
<circle cx="315.3" cy="599.0" r="0.5" fill="#2a2a2a"/>
<circle cx="316.9" cy="598.6" r="0.6" fill="#2a2a2a"/>
<circle cx="320.9" cy="598.6" r="0.7" fill="#2a2a2a"/>
<circle cx="323.2" cy="599.6" r="0.5" fill="#2a2a2a"/>
<circle cx="326.1" cy="599.6" r="0.6" fill="#2a2a2a"/>
<circle cx="328.3" cy="598.5" r="0.6" fill="#2a2a2a"/>
<circle cx="331.7" cy="599.4" r="0.6" fill="#2a2a2a"/>
<circle cx="334.5" cy="598.9" r="0.5" fill="#2a2a2a"/>
<circle cx="337.3" cy="598.9" r="0.6" fill="#2a2a2a"/>
<circle cx="339.9" cy="599.7" r="0.7" fill="#2a2a2a"/>
<line x1="103.00" y1="20.70" x2="364.20" y2="20.70" stroke="#3a3a3a" stroke-width="1.2" />
<polygon points="102.60,20.70 115.80,16.60 115.80,24.80" fill="#111111" stroke="none" stroke-width="0"/>
<polygon points="364.40,20.70 351.20,16.60 351.20,24.80" fill="#111111" stroke="none" stroke-width="0"/>
<line x1="121.30" y1="47.20" x2="346.80" y2="47.20" stroke="#111111" stroke-width="1.2" />
<polygon points="121.10,47.20 134.30,43.10 134.30,51.30" fill="#111111" stroke="none" stroke-width="0"/>
<polygon points="346.90,47.20 333.70,43.10 333.70,51.30" fill="#111111" stroke="none" stroke-width="0"/>
<line x1="18.20" y1="80.30" x2="18.20" y2="722.60" stroke="#444" stroke-width="1.0" />
<polygon points="18.20,80.30 14.80,94.80 21.60,94.80" fill="#111111" stroke="none" stroke-width="0"/>
<polygon points="18.20,722.80 14.80,708.30 21.60,708.30" fill="#111111" stroke="none" stroke-width="0"/>
<line x1="66.60" y1="133.50" x2="66.60" y2="722.60" stroke="#111111" stroke-width="1.1" />
<polygon points="66.60,133.50 62.60,147.10 70.60,147.10" fill="#111111" stroke="none" stroke-width="0"/>
<polygon points="66.60,173.50 62.60,187.10 70.60,187.10" fill="#111111" stroke="none" stroke-width="0"/>
<polygon points="66.60,270.10 62.60,283.70 70.60,283.70" fill="#111111" stroke="none" stroke-width="0"/>
<polygon points="66.60,307.70 62.60,321.30 70.60,321.30" fill="#111111" stroke="none" stroke-width="0"/>
<polygon points="66.60,489.70 62.60,503.30 70.60,503.30" fill="#111111" stroke="none" stroke-width="0"/>
<polygon points="66.60,626.10 62.60,639.70 70.60,639.70" fill="#111111" stroke="none" stroke-width="0"/>
<polygon points="66.60,663.80 62.60,677.40 70.60,677.40" fill="#111111" stroke="none" stroke-width="0"/>
<line x1="85.60" y1="704.50" x2="85.60" y2="722.60" stroke="#111111" stroke-width="1.0" />
<polygon points="85.60,722.80 82.30,711.30 88.90,711.30" fill="#111111" stroke="none" stroke-width="0"/>
<line x1="85.60" y1="729.80" x2="85.60" y2="752.60" stroke="#111111" stroke-width="1.0" />
<polygon points="85.60,729.60 82.30,741.60 88.90,741.60" fill="#111111" stroke="none" stroke-width="0"/>
<polyline points="428.2,28.5 416.7,28.5 232.7,150.4" fill="none" stroke="#111111" stroke-width="1.1"/>
<polyline points="428.2,148.7 416.7,148.7 365,183.5" fill="none" stroke="#111111" stroke-width="1.1"/>
<polyline points="428.2,208.7 416.7,208.7 355,250.2" fill="none" stroke="#111111" stroke-width="1.1"/>
<polyline points="428.2,322 416.7,322 303.4,397.7" fill="none" stroke="#111111" stroke-width="1.1"/>
<polyline points="428.2,447.4 416.7,447.4 103.5,658.5" fill="none" stroke="#111111" stroke-width="1.1"/>
<polyline points="428.2,510 416.7,510 288.3,596.7" fill="none" stroke="#111111" stroke-width="1.1"/>
<polyline points="428.2,553.8 416.7,553.8 354.6,595.5" fill="none" stroke="#111111" stroke-width="1.1"/>
<polyline points="428.2,636.6 416.7,636.6 371,606" fill="none" stroke="#111111" stroke-width="1.1"/>
<polyline points="428.2,793.8 416.7,793.8 323.4,730" fill="none" stroke="#111111" stroke-width="1.1"/>
<text x="233.5" y="14.9" font-size="16.4" text-anchor="middle">D</text>
<text x="233.3" y="42.5" font-size="15.8" text-anchor="middle">d</text>
<text transform="translate(204.20,71.30) scale(0.92,1)" font-size="16.4" textLength="62.6" lengthAdjust="spacing" >Gw 5/4”</text>
<text transform="translate(434.30,27.90) scale(0.92,1)" font-size="15.6" textLength="153.7" lengthAdjust="spacing" >anoda magnezowa</text>
<text transform="translate(434.30,148.60) scale(0.92,1)" font-size="15.6" textLength="89.8" lengthAdjust="spacing" >termometr</text>
<text transform="translate(434.30,208.60) scale(0.92,1)" font-size="15.6" textLength="61.1" lengthAdjust="spacing" >izolacja</text>
<text transform="translate(434.30,322.00) scale(0.92,1)" font-size="15.6" textLength="132.4" lengthAdjust="spacing" >duża wężownica</text>
<text transform="translate(434.30,342.90) scale(0.92,1)" font-size="15.6" textLength="126.1" lengthAdjust="spacing" >do pomp ciepła</text>
<text transform="translate(433.80,447.80) scale(0.92,1)" font-size="15.6" textLength="183.7" lengthAdjust="spacing" >zawór bezpieczeństwa</text>
<text transform="translate(607.40,442.60) scale(0.92,1)" font-size="10.5" text-anchor="start" >2</text>
<text transform="translate(434.30,509.40) scale(0.92,1)" font-size="15.6" textLength="153.6" lengthAdjust="spacing" >anoda magnezowa</text>
<text transform="translate(433.80,553.80) scale(0.92,1)" font-size="15.6" textLength="126.1" lengthAdjust="spacing" >otwór rewizyjny</text>
<text transform="translate(433.80,574.70) scale(0.92,1)" font-size="15.6" textLength="100.9" lengthAdjust="spacing" >ø wewn. 120</text>
<text transform="translate(433.80,595.20) scale(0.92,1)" font-size="15.6" textLength="96.5" lengthAdjust="spacing" >ø zewn. 180</text>
<text transform="translate(433.80,636.60) scale(0.92,1)" font-size="15.6" textLength="162.0" lengthAdjust="spacing" >Gw 6/4” na komplet</text>
<text transform="translate(433.80,657.50) scale(0.92,1)" font-size="15.6" textLength="121.7" lengthAdjust="spacing" >elektryczny GE</text>
<text transform="translate(434.30,794.50) scale(0.92,1)" font-size="15.6" textLength="138.8" lengthAdjust="spacing" >nóżki z regulacją</text>
<text transform="translate(212.60,751.50) scale(0.92,1)" font-size="16.4" textLength="45.9" lengthAdjust="spacing" >Gw 2”</text>
<text transform="translate(92.80,752.70) scale(0.92,1)" font-size="16.4" textLength="85.4" lengthAdjust="spacing" >25-40 mm</text>
<text transform="translate(43.00,146.00) scale(0.92,1)" font-size="16.2" textLength="19.8" lengthAdjust="spacing" >h7</text>
<text transform="translate(43.00,185.90) scale(0.92,1)" font-size="16.2" textLength="19.8" lengthAdjust="spacing" >h6</text>
<text transform="translate(43.00,282.80) scale(0.92,1)" font-size="16.2" textLength="19.8" lengthAdjust="spacing" >h5</text>
<text transform="translate(43.00,503.20) scale(0.92,1)" font-size="16.2" textLength="19.8" lengthAdjust="spacing" >h3</text>
<text transform="translate(43.00,639.20) scale(0.92,1)" font-size="16.2" textLength="19.8" lengthAdjust="spacing" >h2</text>
<text transform="translate(43.00,676.60) scale(0.92,1)" font-size="16.2" textLength="19.8" lengthAdjust="spacing" >h1</text>
<text transform="translate(37.20,320.40) scale(0.92,1)" font-size="16.2" textLength="19.8" lengthAdjust="spacing" >h4</text>
<text transform="translate(55.60,314.20) scale(0.92,1)" font-size="9.5" text-anchor="start" >3</text>
<text transform="translate(11.7,407.4) rotate(-90)" font-size="17" x="0" y="0">L</text>
</svg>
</body></html>
